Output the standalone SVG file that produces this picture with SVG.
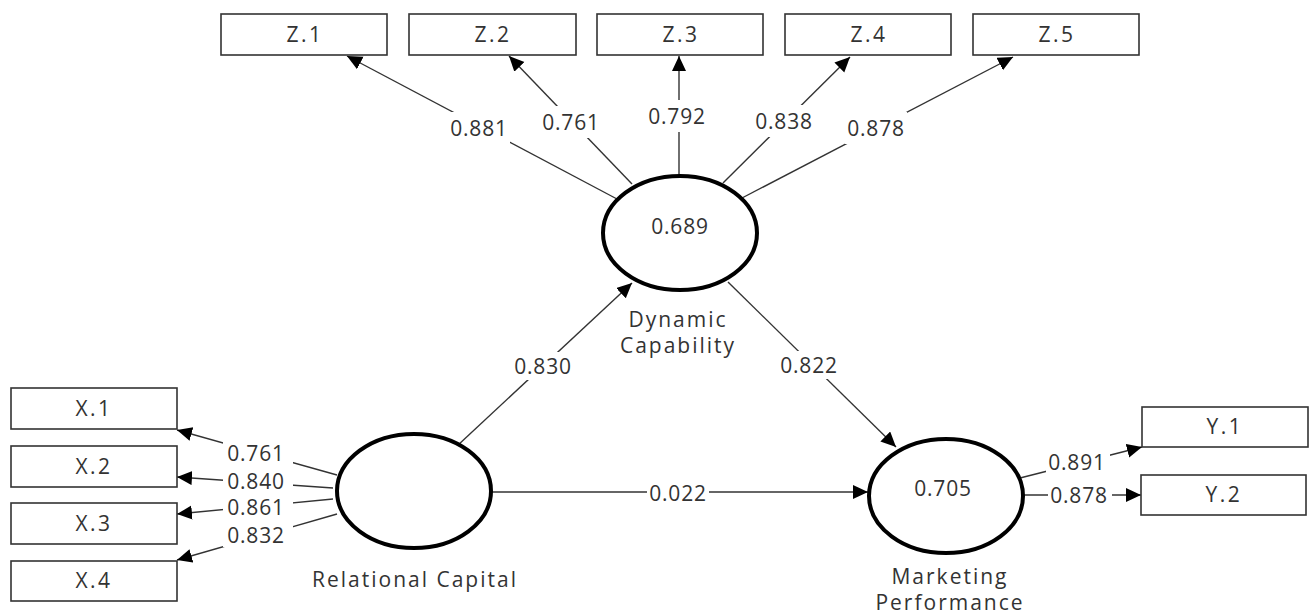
<svg xmlns="http://www.w3.org/2000/svg" width="1309" height="615" viewBox="0 0 1309 615">
<style>
text{font-family:"Open Sans","Noto Sans","DejaVu Sans",sans-serif;font-size:21px;fill:#333;text-anchor:middle;letter-spacing:0.8px}
.bx{letter-spacing:2.5px}
.nm{letter-spacing:2px}
.box{fill:#fff;stroke:#333;stroke-width:1.6}
.lv{fill:#fff;stroke:#000;stroke-width:4}
.ln{stroke:#333;stroke-width:1.4;fill:none;marker-end:url(#ah)}
.bg{fill:#fff}
</style>
<defs>
<marker id="ah" markerUnits="userSpaceOnUse" markerWidth="16" markerHeight="16" refX="15" refY="7" orient="auto">
<path d="M0,0 L15,7 L0,14 z" fill="#000"/>
</marker>
</defs>
<rect width="1309" height="615" fill="#fff"/>
<g id="connectors">
<line class="ln" x1="617" y1="199" x2="347" y2="56"/>
<line class="ln" x1="632" y1="184" x2="509" y2="56"/>
<line class="ln" x1="679" y1="175" x2="679" y2="56"/>
<line class="ln" x1="723" y1="183" x2="850" y2="57"/>
<line class="ln" x1="742" y1="198" x2="1013" y2="57"/>
<line class="ln" x1="457" y1="446" x2="632" y2="283"/>
<line class="ln" x1="728" y1="282" x2="896" y2="447"/>
<line class="ln" x1="490" y1="492" x2="868" y2="492"/>
<line class="ln" x1="337" y1="475" x2="177" y2="430"/>
<line class="ln" x1="333" y1="488" x2="177" y2="477"/>
<line class="ln" x1="333" y1="499" x2="177" y2="514"/>
<line class="ln" x1="337" y1="514" x2="177" y2="560"/>
<line class="ln" x1="1020" y1="478" x2="1142" y2="447"/>
<line class="ln" x1="1023" y1="495" x2="1141" y2="495"/>
<g id="labels">
<rect class="bg" x="448" y="112" width="62" height="32"/><text x="479" y="136">0.881</text>
<rect class="bg" x="540" y="106" width="62" height="32"/><text x="571" y="130">0.761</text>
<rect class="bg" x="646" y="100" width="62" height="32"/><text x="677" y="124">0.792</text>
<rect class="bg" x="753" y="105" width="62" height="32"/><text x="784" y="129">0.838</text>
<rect class="bg" x="845" y="112" width="62" height="32"/><text x="876" y="136">0.878</text>
<rect class="bg" x="512" y="352" width="62" height="28"/><text x="543" y="374">0.830</text>
<rect class="bg" x="778" y="351" width="62" height="28"/><text x="809" y="373">0.822</text>
<rect class="bg" x="647" y="480" width="62" height="26"/><text x="678" y="501">0.022</text>
<rect class="bg" x="223" y="441" width="70" height="24"/><text x="256" y="461">0.761</text>
<rect class="bg" x="223" y="470" width="70" height="22"/><text x="256" y="489">0.840</text>
<rect class="bg" x="223" y="496" width="70" height="22"/><text x="256" y="515">0.861</text>
<rect class="bg" x="223" y="523" width="70" height="24"/><text x="256" y="543">0.832</text>
<rect class="bg" x="1046" y="451" width="64" height="22"/><text x="1077" y="470">0.891</text>
<rect class="bg" x="1048" y="484" width="64" height="22"/><text x="1079" y="503">0.878</text>
</g>
</g>
<g id="Z1"><rect class="box" x="221" y="14" width="166" height="41"/><text class="bx" x="305" y="42">Z.1</text></g>
<g id="Z2"><rect class="box" x="409" y="14" width="167" height="41"/><text class="bx" x="493" y="42">Z.2</text></g>
<g id="Z3"><rect class="box" x="597" y="14" width="166" height="41"/><text class="bx" x="681" y="42">Z.3</text></g>
<g id="Z4"><rect class="box" x="785" y="14" width="166" height="41"/><text class="bx" x="869" y="42">Z.4</text></g>
<g id="Z5"><rect class="box" x="973" y="14" width="166" height="41"/><text class="bx" x="1057" y="42">Z.5</text></g>
<g id="X1"><rect class="box" x="11" y="388" width="166" height="41"/><text class="bx" x="94" y="416">X.1</text></g>
<g id="X2"><rect class="box" x="11" y="446" width="166" height="41"/><text class="bx" x="94" y="474">X.2</text></g>
<g id="X3"><rect class="box" x="11" y="503" width="166" height="41"/><text class="bx" x="94" y="531">X.3</text></g>
<g id="X4"><rect class="box" x="11" y="561" width="166" height="40"/><text class="bx" x="94" y="588">X.4</text></g>
<g id="Y1"><rect class="box" x="1142" y="407" width="166" height="40"/><text class="bx" x="1225" y="434">Y.1</text></g>
<g id="Y2"><rect class="box" x="1141" y="475" width="165" height="40"/><text class="bx" x="1224" y="502">Y.2</text></g>
<g id="DynamicCapability"><ellipse class="lv" cx="680" cy="233" rx="77" ry="57"/><text x="680" y="234">0.689</text><text class="nm" x="678" y="327">Dynamic</text><text class="nm" x="678" y="353">Capability</text></g>
<g id="RelationalCapital"><ellipse class="lv" cx="414" cy="491" rx="77" ry="57"/><text class="nm" x="415" y="587">Relational Capital</text></g>
<g id="MarketingPerformance"><ellipse class="lv" cx="946" cy="496" rx="77" ry="57"/><text x="943" y="496">0.705</text><text class="nm" x="950" y="584">Marketing</text><text class="nm" x="950" y="610">Performance</text></g>
</svg>
